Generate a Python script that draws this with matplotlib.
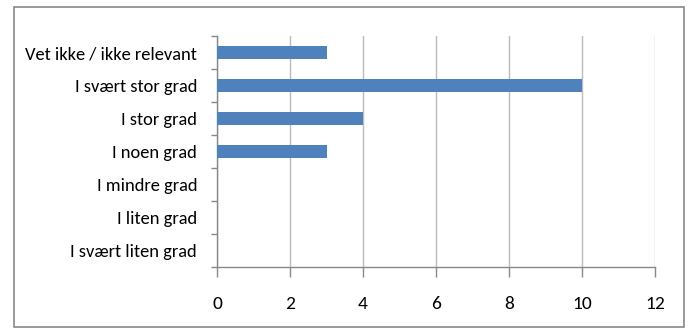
import matplotlib
matplotlib.use("Agg")
import matplotlib.pyplot as plt
from matplotlib.patches import Rectangle
import numpy as np

categories = ["I svært liten grad", "I liten grad", "I mindre grad", "I noen grad",
              "I stor grad", "I svært stor grad", "Vet ikke / ikke relevant"]
values = [0, 0, 0, 3, 4, 10, 3]
xticks = [0, 2, 4, 6, 8, 10, 12]

plt.rcParams['font.family'] = ['Carlito', 'DejaVu Sans']

fig = plt.figure(figsize=(6.92, 3.28), dpi=100)
ax = fig.add_axes([217/692, 1-267/328, (655-217)/692, (267-36)/328])

y = np.arange(len(categories))
ax.barh(y, values, height=0.37, color="#4F81BD", zorder=3)
ax.set_xlim(0, 12)
ax.set_ylim(-0.5, len(categories)-0.5)
ax.set_xticks(xticks)
ax.set_xticklabels([str(t) for t in xticks], fontsize=14)
ax.set_yticks(y)
ax.set_yticklabels(categories, fontsize=13.3)
ax.set_yticks(np.arange(-0.5, len(categories), 1), minor=True)
ax.tick_params(axis='y', which='major', length=0, pad=14.4)
ax.tick_params(axis='y', which='minor', length=4, color="#888888", width=1)
ax.tick_params(axis='x', which='major', length=7, color="#888888", width=1, pad=14)
ax.grid(axis='x', color="#BBBBBB", linewidth=1, zorder=0)
for s in ['top', 'right']:
    ax.spines[s].set_visible(False)
for s in ['left', 'bottom']:
    ax.spines[s].set_color("#888888")
    ax.spines[s].set_linewidth(1)

fig.patches.append(Rectangle((14/692, 1/328), (684-14)/692, (321-1)/328,
                             transform=fig.transFigure, fill=False,
                             edgecolor="#888888", linewidth=1.2))
fig.savefig("out.png", dpi=100)
